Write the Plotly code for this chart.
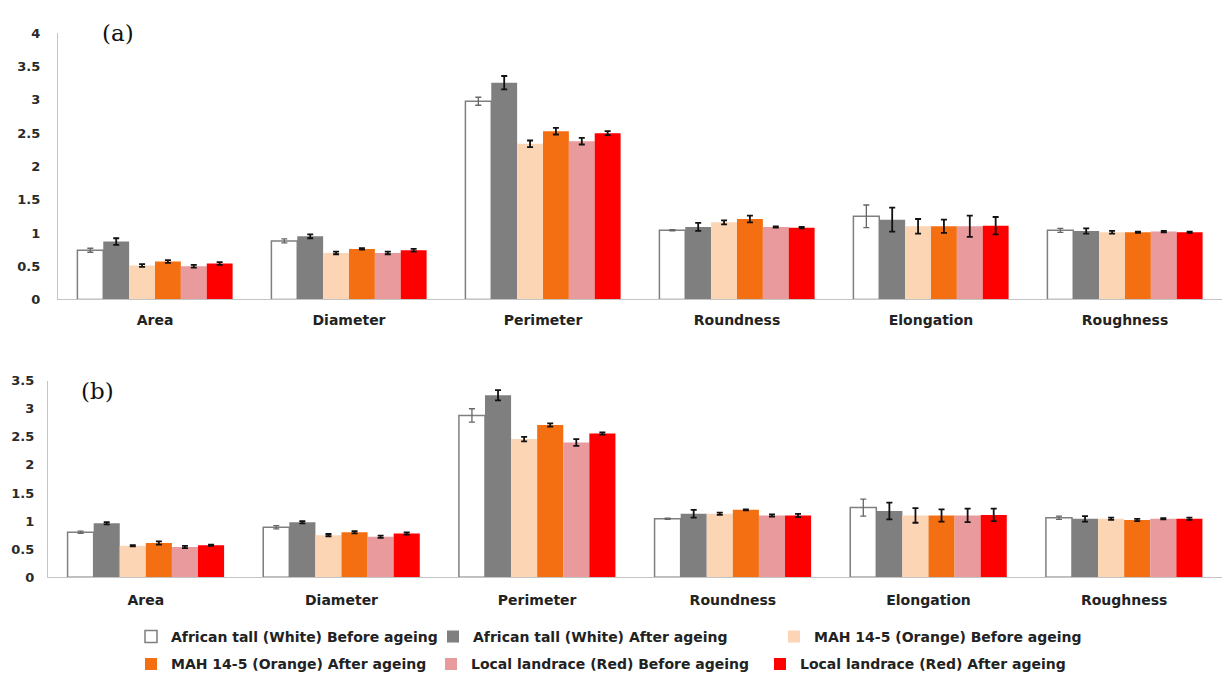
import plotly.graph_objects as go

W, H = 1225, 686

categories = ["Area", "Diameter", "Perimeter", "Roundness", "Elongation", "Roughness"]

series_names = [
    "African tall (White) Before ageing",
    "African tall (White) After ageing",
    "MAH 14-5 (Orange) Before ageing",
    "MAH 14-5 (Orange) After ageing",
    "Local landrace (Red) Before ageing",
    "Local landrace (Red) After ageing",
]
series_colors = ["#ffffff", "#7f7f7f", "#fcd5b4", "#f36f12", "#e89a9c", "#ff0000"]

# Panel (a) means and error bars
a_white_before = [0.74, 0.88, 2.98, 1.04, 1.25, 1.04]
a_white_after = [0.87, 0.95, 3.26, 1.09, 1.20, 1.03]
a_orange_before = [0.51, 0.70, 2.34, 1.16, 1.10, 1.01]
a_orange_after = [0.57, 0.76, 2.53, 1.21, 1.10, 1.01]
a_red_before = [0.50, 0.70, 2.38, 1.09, 1.10, 1.02]
a_red_after = [0.54, 0.74, 2.50, 1.08, 1.11, 1.01]

a_err_white_before = [0.03, 0.03, 0.06, 0.01, 0.17, 0.03]
a_err_white_after = [0.05, 0.03, 0.10, 0.06, 0.18, 0.04]
a_err_orange_before = [0.02, 0.02, 0.05, 0.03, 0.11, 0.02]
a_err_orange_after = [0.02, 0.01, 0.05, 0.05, 0.10, 0.01]
a_err_red_before = [0.02, 0.02, 0.05, 0.01, 0.16, 0.01]
a_err_red_after = [0.02, 0.02, 0.03, 0.01, 0.13, 0.01]

# Panel (b) means and error bars
b_white_before = [0.80, 0.89, 2.88, 1.04, 1.24, 1.06]
b_white_after = [0.96, 0.98, 3.24, 1.13, 1.18, 1.04]
b_orange_before = [0.56, 0.75, 2.46, 1.13, 1.10, 1.04]
b_orange_after = [0.61, 0.80, 2.71, 1.20, 1.10, 1.02]
b_red_before = [0.54, 0.72, 2.40, 1.10, 1.10, 1.04]
b_red_after = [0.57, 0.78, 2.56, 1.10, 1.11, 1.04]

b_err_white_before = [0.02, 0.03, 0.12, 0.01, 0.15, 0.03]
b_err_white_after = [0.02, 0.02, 0.09, 0.07, 0.15, 0.05]
b_err_orange_before = [0.01, 0.02, 0.04, 0.02, 0.13, 0.02]
b_err_orange_after = [0.03, 0.02, 0.03, 0.01, 0.11, 0.02]
b_err_red_before = [0.02, 0.02, 0.06, 0.02, 0.12, 0.01]
b_err_red_after = [0.01, 0.02, 0.02, 0.03, 0.11, 0.02]

panel_a = [a_white_before, a_white_after, a_orange_before, a_orange_after, a_red_before, a_red_after]
panel_a_err = [a_err_white_before, a_err_white_after, a_err_orange_before,
               a_err_orange_after, a_err_red_before, a_err_red_after]
panel_b = [b_white_before, b_white_after, b_orange_before, b_orange_after, b_red_before, b_red_after]
panel_b_err = [b_err_white_before, b_err_white_after, b_err_orange_before,
               b_err_orange_after, b_err_red_before, b_err_red_after]

# legend layout: first three series in the upper row, rest in the lower row
legend_ids = ["legend", "legend", "legend", "legend2", "legend2", "legend2"]
legend_widths = [265, 304, 270, 263, 292, 270]

fig = go.Figure()

for panel, (vals, errs, xa, ya) in enumerate([(panel_a, panel_a_err, "x", "y"),
                                               (panel_b, panel_b_err, "x2", "y2")]):
    for i in range(6):
        is_white = i == 0
        fig.add_trace(go.Bar(
            x=categories,
            y=vals[i],
            name=series_names[i],
            xaxis=xa,
            yaxis=ya,
            marker=dict(
                color=series_colors[i],
                line=dict(color="#7f7f7f" if is_white else series_colors[i],
                          width=1.5 if is_white else 0),
            ),
            error_y=dict(type="data", array=errs[i], visible=True,
                         color="#666666" if is_white else "#111111",
                         thickness=1.3 if is_white else 1.8, width=3),
            showlegend=(panel == 0),
            legend=legend_ids[i],
            legendwidth=legend_widths[i],
        ))


def px_x(p):
    return p / W


def px_y(p):
    return 1 - p / H


axis_line = "#c4c4c4"
tick_font = dict(family="DejaVu Sans", size=13, color="#2a2a2a", weight="bold")
cat_font = dict(family="DejaVu Sans", size=14, color="#222222", weight="bold")

common_x = dict(type="category", showline=True, linecolor=axis_line, linewidth=1.2,
                ticks="", showgrid=False, zeroline=False, tickfont=cat_font)
common_y = dict(showline=True, linecolor=axis_line, linewidth=1.2, ticks="",
                showgrid=False, zeroline=False, dtick=0.5, tickfont=tick_font)

legend_common = dict(orientation="h", font=dict(family="DejaVu Sans", size=14,
                                                color="#222222", weight="bold"),
                     bgcolor="rgba(0,0,0,0)", borderwidth=0, xanchor="left",
                     yanchor="middle", itemclick=False, indentation=-8)

fig.update_layout(
    width=W, height=H,
    margin=dict(l=0, r=0, t=0, b=0),
    paper_bgcolor="white",
    plot_bgcolor="white",
    barmode="group",
    bargap=0.2,
    bargroupgap=0,
    xaxis=dict(domain=[px_x(58), px_x(1222)], anchor="y", ticklabelstandoff=8, **common_x),
    yaxis=dict(domain=[px_y(299), px_y(27)], range=[0, 4], anchor="x",
               ticklabelstandoff=14, **common_y),
    xaxis2=dict(domain=[px_x(48), px_x(1222)], anchor="y2", ticklabelstandoff=10, **common_x),
    yaxis2=dict(domain=[px_y(583), px_y(382)], range=[0, 3.5], anchor="x2",
                ticklabelstandoff=10, **common_y),
    legend=dict(x=px_x(139), y=px_y(644), **legend_common),
    legend2=dict(x=px_x(139), y=px_y(672), **legend_common),
    annotations=[
        dict(text="(a)", x=px_x(118), y=px_y(27), xref="paper", yref="paper",
             showarrow=False, xanchor="center", yanchor="middle",
             font=dict(family="DejaVu Serif", size=23, color="#111111")),
        dict(text="(b)", x=px_x(97), y=px_y(393), xref="paper", yref="paper",
             showarrow=False, xanchor="center", yanchor="middle",
             font=dict(family="DejaVu Serif", size=23, color="#111111")),
    ],
)

fig.write_html("out.html")
